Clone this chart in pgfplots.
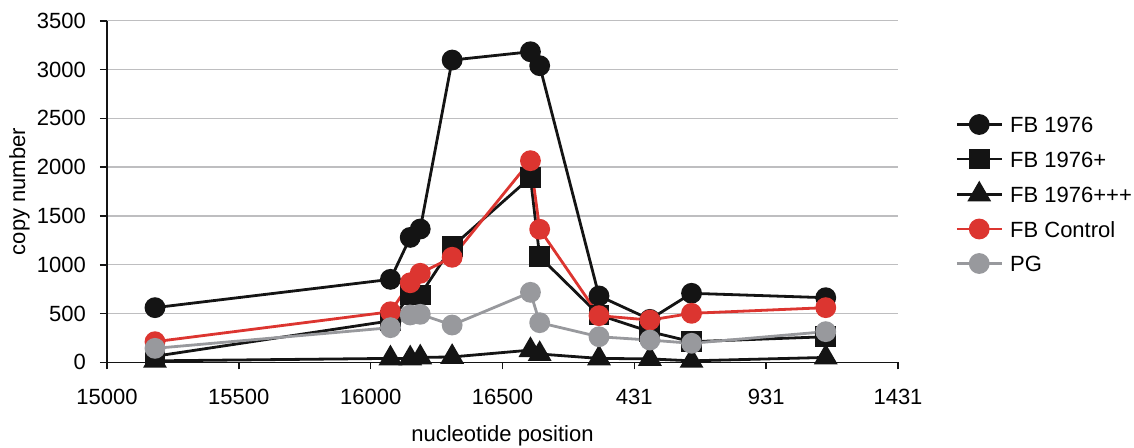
\documentclass[border=0pt]{standalone}
\usepackage{fontspec}
\setmainfont{Liberation Sans}
\usepackage{pgfplots}
\pgfplotsset{compat=1.18}
\definecolor{cblack}{RGB}{20,20,20}
\definecolor{cred}{RGB}{220,53,48}
\definecolor{cgray}{RGB}{152,153,157}
\definecolor{cgrid}{RGB}{190,190,192}
\begin{document}
\begin{tikzpicture}
\path[use as bounding box] (-53.5pt,-42.35pt) rectangle (513.5pt,181.15pt);
\begin{axis}[
  at={(0,0)}, anchor=south west,
  scale only axis, width=395.5pt, height=170.8pt,
  xmin=15000, xmax=18000, ymin=0, ymax=3500,
  xtick={15000,15500,16000,16500,17000,17500,18000},
  xticklabels={15000,15500,16000,16500,431,931,1431},
  ytick={0,500,...,3500},
  axis lines*=left,
  axis line style={cblack, line width=0.8pt},
  tick style={cblack, line width=0.8pt},
  tick align=outside, major tick length=3.5pt,
  ymajorgrids, grid style={cgrid, line width=0.7pt},
  clip=false,
  font=\fontsize{11}{13}\selectfont,
  /pgf/number format/assume math mode=true,
  scaled ticks=false,
  yticklabel style={/pgf/number format/1000 sep={}, xshift=-3.5pt, font=\fontsize{11}{13}\selectfont},
  xticklabel style={yshift=-6.5pt, font=\fontsize{11}{13}\selectfont},
  every axis y label/.style={at={(axis description cs:0,0.5)}, xshift=-43.75pt, rotate=90, anchor=center},
  every axis x label/.style={at={(axis description cs:0.5,0)}, yshift=-39.7pt, anchor=base},
  xlabel={nucleotide position}, ylabel={copy number},
  legend cell align=left,
  legend style={draw=none, fill=none, at={(1.072,0.4927)}, anchor=west, inner sep=0pt,
    row sep=7.25pt, font=\fontsize{11}{13}\selectfont,
    nodes={inner sep=1pt, text height=8pt, text depth=0pt},
    /tikz/every odd column/.append style={column sep=2.5pt}},
  legend image code/.code={\draw[mark repeat=2,mark phase=2] plot coordinates {(0pt,0pt) (11.25pt,0pt) (22.5pt,0pt)};},
]
\addplot[cblack, line width=1.4pt, mark=*, mark size=4.5pt, mark options={solid, fill=cblack, draw=cblack}] coordinates {
(15182,560) (16075,850) (16150,1280) (16188,1366) (16309,3097) (16606,3182) (16641,3039) (16866,680) (17059,440) (17217,707) (17726,662)};
\addlegendentry{FB 1976}
\addplot[cblack, line width=1.4pt, mark=square*, mark size=4.5pt, mark options={solid, fill=cblack, draw=cblack}] coordinates {
(15182,62) (16075,425) (16150,690) (16188,690) (16309,1185) (16606,1895) (16641,1082) (16866,485) (17059,314) (17217,211) (17726,262)};
\addlegendentry{FB 1976+}
\addplot[cblack, line width=1.4pt, mark=triangle*, mark size=5.5pt, mark options={solid, fill=cblack, draw=cblack}] coordinates {
(15182,15) (16075,40) (16150,40) (16188,50) (16309,55) (16606,125) (16641,85) (16866,40) (17059,35) (17217,15) (17726,50)};
\addlegendentry{FB 1976+++}
\addplot[cred, line width=1.4pt, mark=*, mark size=4.5pt, mark options={solid, fill=cred, draw=cred}] coordinates {
(15182,211) (16075,518) (16150,815) (16188,912) (16309,1076) (16606,2066) (16641,1363) (16866,478) (17059,433) (17217,502) (17726,560)};
\addlegendentry{FB Control}
\addplot[cgray, line width=1.4pt, mark=*, mark size=4.5pt, mark options={solid, fill=cgray, draw=cgray}] coordinates {
(15182,143) (16075,355) (16150,485) (16188,492) (16309,382) (16606,717) (16641,406) (16866,262) (17059,228) (17217,195) (17726,314)};
\addlegendentry{PG}
\end{axis}
\end{tikzpicture}
\end{document}
